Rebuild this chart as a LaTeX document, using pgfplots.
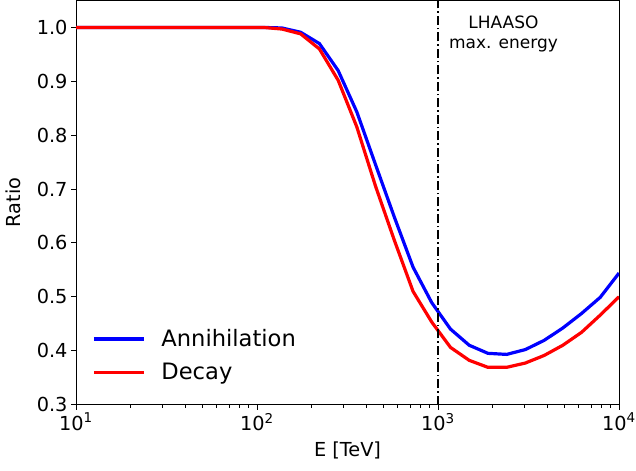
\documentclass[border=0pt]{standalone}
\usepackage{fontspec}
\setmainfont{DejaVu Sans}
\usepackage{pgfplots}
\pgfplotsset{compat=1.18}
\usepackage{pgfplotstable}

% Ratio of the gamma-ray flux with and without absorption, log-spaced energies
\pgfplotstableread{
E       ann    dec
10      1.000  1.000
12.690  1.000  1.000
16.103  1.000  1.000
20.434  1.000  1.000
25.929  1.000  1.000
32.903  1.000  1.000
41.753  1.000  1.000
52.983  1.000  1.000
67.234  1.000  1.000
85.317  1.000  1.000
108.27  1.000  1.000
137.38  0.999  0.997
174.33  0.991  0.988
221.22  0.970  0.960
280.72  0.920  0.902
356.22  0.843  0.815
452.03  0.745  0.705
573.61  0.648  0.605
727.90  0.555  0.510
923.67  0.489  0.453
1172.1  0.440  0.406
1487.4  0.410  0.382
1887.4  0.395  0.369
2395.0  0.393  0.369
3039.2  0.402  0.377
3856.6  0.419  0.391
4893.9  0.442  0.410
6210.2  0.469  0.434
7880.5  0.499  0.466
10000   0.544  0.500
}\ratios

\begin{document}
\begin{tikzpicture}
\begin{axis}[
  name=ax,
  scale only axis, width=543pt, height=404pt,
  xmode=log, xmin=10, xmax=10000, ymin=0.3, ymax=1.05,
  xtick={10,100,1000,10000},
  xticklabels={10\textsuperscript{1},10\textsuperscript{2},10\textsuperscript{3},10\textsuperscript{4}},
  minor xtick={20,30,40,50,60,70,80,90,200,300,400,500,600,700,800,900,2000,3000,4000,5000,6000,7000,8000,9000},
  ytick={0.3,0.4,0.5,0.6,0.7,0.8,0.9,1.0},
  yticklabel style={/pgf/number format/.cd, fixed, fixed zerofill, precision=1},
  /pgf/number format/assume math mode=true,
  tick label style={font=\fontsize{19.3}{23}\selectfont},
  label style={font=\fontsize{19.3}{23}\selectfont},
  tick pos=left, tick align=outside,
  major tick length=5pt, minor tick length=3pt,
  every tick/.style={black, line width=0.9pt},
  axis line style={line width=0.9pt},
  xlabel={E [TeV]}, ylabel={Ratio},
  xlabel style={at={(axis description cs:0.5,-0.114)}, anchor=center},
  ylabel style={at={(axis description cs:-0.115,0.5)}, anchor=center},
  legend style={draw=none, fill=none, at={(axis description cs:0.024,0.047)},
    anchor=south west, font=\fontsize{22.6}{26}\selectfont, row sep=11pt},
  legend cell align=left,
  legend image code/.code={\draw[#1] (0pt,0pt) -- (50pt,0pt); \path (64pt,0pt);},
]
\addplot[blue, line width=3.2pt] table[x=E, y=ann] {\ratios};
\addlegendentry{Annihilation}
\addplot[red, line width=3.2pt] table[x=E, y=dec] {\ratios};
\addlegendentry{Decay}
% LHAASO maximum energy
\addplot[black, line width=1.8pt, dash pattern=on 9pt off 3pt on 1.5pt off 3pt, forget plot]
  coordinates {(1000,0.3) (1000,1.05)};
\node[align=center, anchor=north, inner sep=0pt, font=\fontsize{17}{20}\selectfont]
  at (axis cs:2300,1.021) {LHAASO\\max. energy};
\end{axis}
\pgfresetboundingbox
\path ([xshift=-76pt,yshift=-66pt]ax.south west) rectangle ([xshift=17pt,yshift=0.5pt]ax.north east);
\end{tikzpicture}
\end{document}
